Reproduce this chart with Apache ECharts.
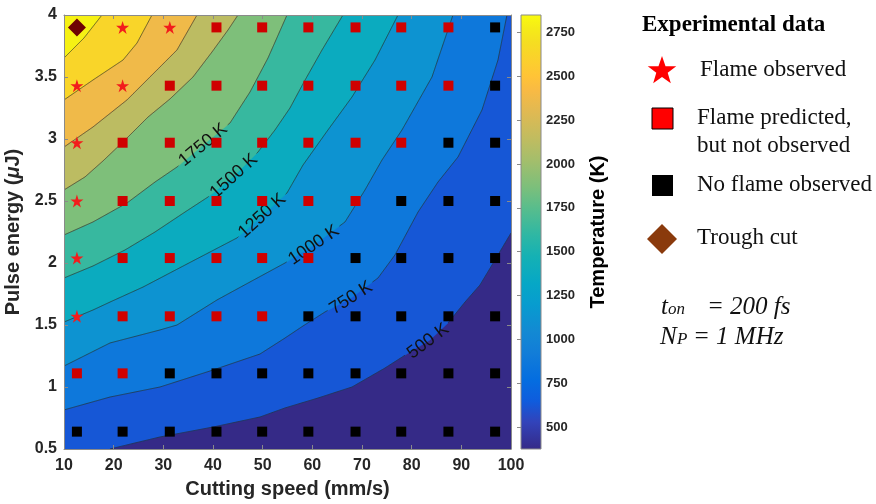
<!DOCTYPE html>
<html><head><meta charset="utf-8">
<script src="https://cdn.jsdelivr.net/npm/echarts@6/dist/echarts.min.js"></script>
<style>html,body{margin:0;padding:0;background:#fff}#c{width:876px;height:504px}</style>
</head><body><div id="c"></div>
<script>
// ---------------- data ----------------
const speeds   = [12.6, 21.8, 31.3, 40.7, 49.9, 59.2, 68.7, 77.9, 87.4, 96.8];   // mm/s
const energies = [3.90, 3.43, 2.97, 2.50, 2.04, 1.57, 1.11, 0.64];               // uJ
// D = trough cut, S = flame observed, R = flame predicted but not observed, B = no flame
const outcome = [
  'DSSRRRRRRB',
  'SSRRRRRRRB',
  'SRRRRRRRBB',
  'SRRRRRRBBB',
  'SRRRRRBBBB',
  'SRRRRBBBBB',
  'RRBBBBBBBB',
  'BBBBBBBBBB'
];
const levels = [500, 750, 1000, 1250, 1500, 1750, 2000, 2250, 2500, 2750];
const tempMin = 375, tempMax = 2850;
const colorbarTicks = [500, 750, 1000, 1250, 1500, 1750, 2000, 2250, 2500, 2750];
// iso-temperature lines: [speed, energy]
const iso500  = [[19.26,0.5],[29.33,0.597],[40.0,0.677],[49.46,0.758],[54.50,0.831],[61.14,0.911],[67.99,1.0],[74.63,1.153],[79.66,1.282],[83.69,1.379],[87.32,1.516],[90.74,1.685],[93.76,1.823],[96.78,2.024],[100,2.242]];
const iso750  = [[10,0.815],[19.26,0.919],[29.33,1.0],[39.40,1.129],[49.46,1.266],[54.50,1.395],[58.12,1.492],[62.55,1.605],[67.79,1.718],[73.22,1.879],[76.64,2.065],[81.28,2.411],[85.30,2.653],[89.33,2.855],[94.16,3.234],[97.38,3.637],[99.19,4]];
const iso1000 = [[10,1.169],[19.26,1.355],[29.33,1.460],[32.75,1.500],[40.81,1.702],[47.45,1.847],[54.50,2.0],[60.34,2.145],[66.58,2.331],[70.60,2.589],[74.03,2.831],[78.05,3.073],[84.09,3.5],[88.32,4]];
const iso1250 = [[10,1.524],[15.84,1.621],[19.26,1.685],[25.91,1.806],[34.77,1.992],[44.83,2.202],[49.87,2.379],[54.90,2.565],[58.12,2.790],[63.15,3.073],[67.99,3.339],[72.62,3.637],[77.25,4]];
const iso1500 = [[10,1.879],[15.84,1.976],[22.28,2.105],[28.32,2.250],[34.36,2.411],[38.99,2.532],[44.23,2.702],[49.06,2.895],[52.48,3.073],[55.50,3.250],[58.32,3.460],[61.95,3.718],[66.17,4]];
const iso1750 = [[10,2.226],[15.84,2.331],[22.68,2.484],[28.32,2.653],[32.75,2.774],[37.99,2.952],[43.42,3.129],[47.45,3.379],[51.07,3.653],[54.90,4]];
const iso2000 = [[10,2.589],[14.23,2.694],[17.85,2.823],[22.28,2.992],[26.91,3.177],[31.34,3.323],[35.97,3.500],[39.80,3.702],[43.02,3.879],[45.03,4]];
const iso2250 = [[10,2.935],[15.84,3.097],[22.68,3.315],[29.33,3.581],[32.75,3.718],[36.78,4]];
const iso2500 = [[10,3.315],[15.84,3.476],[21.88,3.637],[24.70,3.774],[27.72,4]];
const iso2750 = [[10,3.653],[14.03,3.815],[17.65,4]];
const isoLines = [iso500, iso750, iso1000, iso1250, iso1500, iso1750, iso2000, iso2250, iso2500, iso2750];
// speed at which each inline contour label sits
const labelSpeed = {500: 83.3, 750: 67.8, 1000: 60.3, 1250: 49.9, 1500: 44.2, 1750: 38.0};

// ---------------- styling ----------------
const SANS = '"Liberation Sans", Arial, sans-serif';
const SERIF = '"Liberation Serif", "Times New Roman", serif';
const AX = '#8a8a8a';
const parulaStops = [
  [0.000, [53, 42, 135]], [0.063, [50, 67, 186]], [0.111, [15, 92, 221]], [0.159, [4, 109, 224]],
  [0.222, [18, 125, 216]], [0.270, [19, 137, 211]], [0.333, [7, 156, 207]], [0.381, [6, 167, 198]],
  [0.444, [21, 177, 180]], [0.492, [46, 183, 164]], [0.556, [89, 189, 140]], [0.603, [124, 191, 123]],
  [0.667, [165, 190, 107]], [0.714, [192, 188, 96]], [0.778, [225, 185, 82]], [0.825, [248, 186, 68]],
  [0.857, [255, 195, 55]], [0.889, [252, 206, 46]], [0.937, [245, 222, 33]], [0.968, [245, 235, 24]],
  [1.000, [249, 251, 14]]
];
function parula(t) {
  t = Math.max(0, Math.min(1, t));
  for (let i = 0; i < parulaStops.length - 1; i++) {
    const [t0, c0] = parulaStops[i], [t1, c1] = parulaStops[i + 1];
    if (t <= t1) {
      const f = (t - t0) / (t1 - t0);
      const c = c0.map((v, k) => Math.round(v + f * (c1[k] - v)));
      return 'rgb(' + c.join(',') + ')';
    }
  }
  return 'rgb(249,251,14)';
}
const norm = v => (v - tempMin) / (tempMax - tempMin);
const baseColor = parula(0.0);
const bandColors = levels.map((L, i) => {
  const hi = i < levels.length - 1 ? levels[i + 1] : tempMax;
  return parula(norm((L + hi) / 2));
});

// ---------------- geometry helpers ----------------
const X0 = 10, X1 = 100, Y0 = 0.5, Y1 = 4;
const corners = [[X0, Y0], [X1, Y0], [X1, Y1], [X0, Y1]];
function perim(p) {
  const e = 1e-6, x = p[0], y = p[1];
  if (Math.abs(y - Y0) < e) return (x - X0) / (X1 - X0);
  if (Math.abs(x - X1) < e) return 1 + (y - Y0) / (Y1 - Y0);
  if (Math.abs(y - Y1) < e) return 2 + (X1 - x) / (X1 - X0);
  return 3 + (Y1 - y) / (Y1 - Y0);
}
function regionAbove(pts) {
  const pS = perim(pts[0]), pE = perim(pts[pts.length - 1]);
  let end = pS; if (end <= pE) end += 4;
  const out = pts.slice();
  for (let k = Math.ceil(pE + 1e-9); k < end; k++) out.push(corners[k % 4]);
  return out;
}
const fillPolys = [corners.slice()].concat(isoLines.map(regionAbove));
const fillColors = [baseColor].concat(bandColors);

function yAtX(pts, x) {
  for (let k = 0; k < pts.length - 1; k++) {
    const a = pts[k], b = pts[k + 1];
    if ((a[0] - x) * (b[0] - x) <= 0 && a[0] !== b[0]) {
      const t = (x - a[0]) / (b[0] - a[0]);
      return a[1] + t * (b[1] - a[1]);
    }
  }
  return null;
}
function splitAround(pts, c, r) {
  const out = []; let cur = [];
  const keep = p => !c || Math.hypot(p[0] - c[0], p[1] - c[1]) > r;
  for (let k = 0; k < pts.length - 1; k++) {
    const a = pts[k], b = pts[k + 1];
    const n = Math.max(1, Math.ceil(Math.hypot(b[0] - a[0], b[1] - a[1])));
    for (let s = 0; s < n; s++) {
      const t = s / n, p = [a[0] + t * (b[0] - a[0]), a[1] + t * (b[1] - a[1])];
      if (keep(p)) cur.push(p); else { if (cur.length > 1) out.push(cur); cur = []; }
    }
  }
  const last = pts[pts.length - 1];
  if (keep(last)) cur.push(last);
  if (cur.length > 1) out.push(cur);
  return out;
}
// five-pointed star outline for the legend icon
function starPoints(cx, cy, R) {
  const pts = [];
  for (let k = 0; k < 10; k++) {
    const rr = k % 2 === 0 ? R : R * 0.4;
    const a = -Math.PI / 2 + k * Math.PI / 5;
    pts.push([cx + rr * Math.cos(a), cy + rr * Math.sin(a)]);
  }
  return pts;
}

// ---------------- markers ----------------
const markerSets = {D: [], S: [], R: [], B: []};
outcome.forEach((row, r) => row.split('').forEach((code, c) => markerSets[code].push([speeds[c], energies[r]])));
const STAR = 'path://M50,0 L61.2,34.5 L97.6,34.5 L68.2,55.9 L79.4,90.5 L50,69.1 L20.6,90.5 L31.8,55.9 L2.4,34.5 L38.8,34.5 Z';

const chart = echarts.init(document.getElementById('c'), null, {renderer: 'canvas'});
const LABEL_FS = 18;

const mainAxisCommon = {
  gridIndex: 0, type: 'value', z: 10,
  axisLine: {show: true, onZero: false, lineStyle: {color: AX, width: 1}},
  axisTick: {show: true, inside: true, length: 4, lineStyle: {color: AX}},
  splitLine: {show: false}
};

const option = {
  animation: false,
  backgroundColor: '#ffffff',
  grid: [
    {left: 64, right: 365, top: 15, bottom: 55, outerBoundsMode: 'none', containLabel: false},
    {left: 521, right: 335, top: 15, bottom: 55, outerBoundsMode: 'none', containLabel: false}
  ],
  xAxis: [
    Object.assign({}, mainAxisCommon, {
      min: 10, max: 100, interval: 10, position: 'bottom',
      axisLabel: {margin: 9, color: '#262626', fontSize: 16, fontWeight: 'bold', fontFamily: SANS},
      name: 'Cutting speed (mm/s)', nameLocation: 'middle', nameGap: 30,
      nameTextStyle: {color: '#262626', fontSize: 20, fontWeight: 'bold', fontFamily: SANS}
    }),
    Object.assign({}, mainAxisCommon, {
      min: 10, max: 100, interval: 10, position: 'top', axisLabel: {show: false}
    }),
    {gridIndex: 1, type: 'value', min: 0, max: 1, show: false}
  ],
  yAxis: [
    Object.assign({}, mainAxisCommon, {
      min: 0.5, max: 4, interval: 0.5, position: 'left',
      axisLabel: {margin: 7, color: '#262626', fontSize: 16, fontWeight: 'bold', fontFamily: SANS},
      name: 'Pulse energy ({mu|μ}J)', nameLocation: 'middle', nameGap: 31, nameRotate: 90,
      nameTextStyle: {color: '#262626', fontSize: 20, fontWeight: 'bold', fontFamily: SANS,
        rich: {mu: {fontSize: 20, fontWeight: 'bold', fontStyle: 'italic', fontFamily: SANS, color: '#262626'}}}
    }),
    Object.assign({}, mainAxisCommon, {
      min: 0.5, max: 4, interval: 0.5, position: 'right', axisLabel: {show: false}
    }),
    {
      gridIndex: 1, type: 'value', min: tempMin, max: tempMax, position: 'right', z: 10,
      axisLine: {show: false},
      axisTick: {show: true, inside: true, length: 4, lineStyle: {color: AX}, customValues: colorbarTicks},
      axisLabel: {margin: 5, color: '#262626', fontSize: 13, fontWeight: 'bold', fontFamily: SANS,
        customValues: colorbarTicks, formatter: v => String(v)},
      splitLine: {show: false},
      name: 'Temperature (K)', nameLocation: 'middle', nameGap: 47, nameRotate: 90,
      nameTextStyle: {color: '#000', fontSize: 20, fontWeight: 'bold', fontFamily: SANS}
    }
  ],
  series: [
    { // filled contour bands
      type: 'custom', name: 'bands', xAxisIndex: 0, yAxisIndex: 0, z: 1, silent: true, clip: true,
      data: fillPolys.map((_, i) => [X0, Y0, i]),
      encode: {x: 0, y: 1},
      renderItem: (params, api) => {
        const i = api.value(2);
        return {type: 'polygon', shape: {points: fillPolys[i].map(p => api.coord(p))},
          style: {fill: fillColors[i], stroke: fillColors[i], lineWidth: 0.5}};
      }
    },
    { // contour lines and inline labels
      type: 'custom', name: 'isolines', xAxisIndex: 0, yAxisIndex: 0, z: 3, silent: true, clip: true,
      data: isoLines.map((_, i) => [X0, Y0, i]),
      encode: {x: 0, y: 1},
      renderItem: (params, api) => {
        const i = api.value(2), L = levels[i];
        const pts = isoLines[i].map(p => api.coord(p));
        const children = [];
        let c = null, r = 0;
        if (labelSpeed[L] !== undefined) {
          const cx = api.coord([labelSpeed[L], Y0])[0];
          const cy = yAtX(pts, cx);
          const ya = yAtX(pts, cx - 14), yb = yAtX(pts, cx + 14);
          const ang = Math.atan2(-(yb - ya), 28);
          const text = L + ' K';
          const w = (String(L).length * 0.556 + 0.278 + 0.667) * LABEL_FS;
          c = [cx, cy]; r = w / 2 + 3;
          children.push({type: 'text', x: cx, y: cy, rotation: ang, z2: 5,
            style: {text: text, fontSize: LABEL_FS, fontFamily: SANS, fill: '#111', align: 'center', verticalAlign: 'middle'}});
        }
        splitAround(pts, c, r).forEach(seg => children.push({type: 'polyline', shape: {points: seg},
          style: {stroke: 'rgba(40,40,40,0.85)', lineWidth: 0.8, fill: null}}));
        return {type: 'group', children: children};
      }
    },
    { // colorbar
      type: 'custom', name: 'colorbar', xAxisIndex: 2, yAxisIndex: 2, z: 1, silent: true,
      data: [[0, tempMin, 0]],
      renderItem: (params, api) => {
        const p0 = api.coord([0, tempMin]), p1 = api.coord([1, tempMax]);
        return {type: 'rect', shape: {x: p0[0], y: p1[1], width: p1[0] - p0[0], height: p0[1] - p1[1]},
          style: {fill: new echarts.graphic.LinearGradient(0, 1, 0, 0,
            parulaStops.map(s => ({offset: s[0], color: 'rgb(' + s[1].join(',') + ')'}))),
            stroke: AX, lineWidth: 1}};
      }
    },
    {type: 'scatter', name: 'Flame observed', xAxisIndex: 0, yAxisIndex: 0, z: 5, data: markerSets.S,
      symbol: STAR, symbolSize: 13, itemStyle: {color: '#f21c1c', opacity: 1}},
    {type: 'scatter', name: 'Flame predicted, but not observed', xAxisIndex: 0, yAxisIndex: 0, z: 5, data: markerSets.R,
      symbol: 'rect', symbolSize: 10, itemStyle: {color: '#cf0000', opacity: 1}},
    {type: 'scatter', name: 'No flame observed', xAxisIndex: 0, yAxisIndex: 0, z: 5, data: markerSets.B,
      symbol: 'rect', symbolSize: 10, itemStyle: {color: '#000000', opacity: 1}},
    {type: 'scatter', name: 'Trough cut', xAxisIndex: 0, yAxisIndex: 0, z: 5, data: markerSets.D,
      symbol: 'diamond', symbolSize: 18, itemStyle: {color: '#6e0303', opacity: 1}}
  ],
  graphic: [
    {type: 'text', x: 642, y: 25, style: {text: 'Experimental data', fontSize: 23, fontWeight: 'bold', fontFamily: SERIF, fill: '#000', verticalAlign: 'middle'}},
    {type: 'polygon', shape: {points: starPoints(662, 71, 15)}, style: {fill: '#ff0000'}},
    {type: 'text', x: 700, y: 70, style: {text: 'Flame observed', fontSize: 23, fontFamily: SERIF, fill: '#111', verticalAlign: 'middle'}},
    {type: 'rect', shape: {x: 652, y: 108, width: 21, height: 21}, style: {fill: '#ff0000', stroke: '#000', lineWidth: 1}},
    {type: 'text', x: 697, y: 118, style: {text: 'Flame predicted,', fontSize: 23, fontFamily: SERIF, fill: '#111', verticalAlign: 'middle'}},
    {type: 'text', x: 697, y: 146, style: {text: 'but not observed', fontSize: 23, fontFamily: SERIF, fill: '#111', verticalAlign: 'middle'}},
    {type: 'rect', shape: {x: 652, y: 175, width: 21, height: 21}, style: {fill: '#000'}},
    {type: 'text', x: 697, y: 185, style: {text: 'No flame observed', fontSize: 23, fontFamily: SERIF, fill: '#111', verticalAlign: 'middle'}},
    {type: 'polygon', shape: {points: [[662, 224], [677, 239], [662, 254], [647, 239]]}, style: {fill: '#8a3a0c'}},
    {type: 'text', x: 697, y: 238, style: {text: 'Trough cut', fontSize: 23, fontFamily: SERIF, fill: '#111', verticalAlign: 'middle'}},
    {type: 'text', x: 661, y: 295, style: {text: 't', fontSize: 25, fontStyle: 'italic', fontFamily: SERIF, fill: '#111', verticalAlign: 'alphabetic'}},
    {type: 'text', x: 668, y: 301, style: {text: 'on', fontSize: 17, fontStyle: 'italic', fontFamily: SERIF, fill: '#111', verticalAlign: 'alphabetic'}},
    {type: 'text', x: 707, y: 295, style: {text: '= 200 fs', fontSize: 25, fontStyle: 'italic', fontFamily: SERIF, fill: '#111', verticalAlign: 'alphabetic'}},
    {type: 'text', x: 660, y: 325, style: {text: 'N', fontSize: 25, fontStyle: 'italic', fontFamily: SERIF, fill: '#111', verticalAlign: 'alphabetic'}},
    {type: 'text', x: 677, y: 331, style: {text: 'P', fontSize: 17, fontStyle: 'italic', fontFamily: SERIF, fill: '#111', verticalAlign: 'alphabetic'}},
    {type: 'text', x: 693, y: 325, style: {text: '= 1 MHz', fontSize: 25, fontStyle: 'italic', fontFamily: SERIF, fill: '#111', verticalAlign: 'alphabetic'}}
  ]
};
chart.setOption(option);
</script>
</body></html>
